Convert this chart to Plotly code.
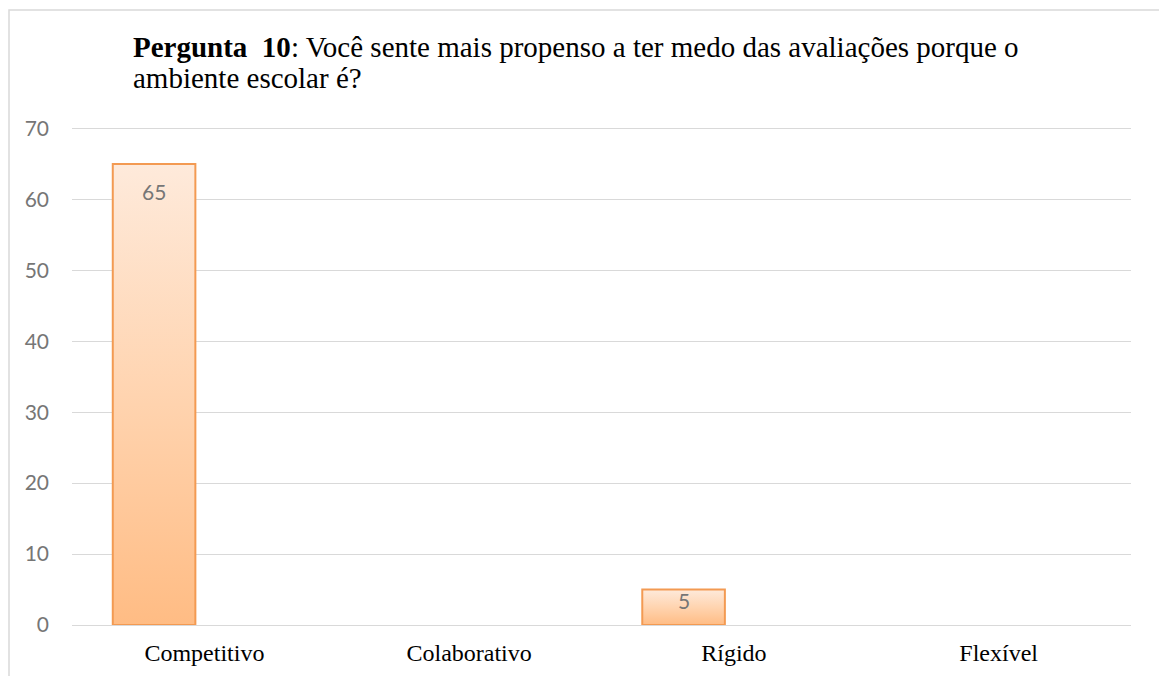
import plotly.graph_objects as go

# ---------------- data ----------------
categories = ["Competitivo", "Colaborativo", "Rígido", "Flexível"]
values = [65, 0, 5, 0]
y_ticks = [0, 10, 20, 30, 40, 50, 60, 70]
title_bold = "Pergunta\u00a0\u00a010"
title_rest_line1 = ": Você sente mais propenso a ter medo das avaliações porque o"
title_line2 = "ambiente escolar é?"

# ---------------- style ----------------
W, H = 1159, 676
ML, MR, MT, MB = 72, 28, 127, 51
PLOT_W = W - ML - MR
PLOT_H = H - MT - MB
Y_TOP = 70.2
PX_PER_UNIT = PLOT_H / Y_TOP

BAR_OFFSET = -0.346
BAR_WIDTH = 0.312
BORDER = "#F39A52"
GRAD = [[0.0, "#FFBC84"], [0.5, "#FFD4B0"], [1.0, "#FEEADB"]]
GRID = "#D9D9D9"
LABEL_GRAY = "#767676"
SERIF = "Liberation Serif, Times New Roman, serif"
SANS = "Lato, Open Sans, sans-serif"

idx = list(range(len(categories)))

fig = go.Figure()

# gradient fills (drawn through the main axes)
for i, v in zip(idx, values):
    if v <= 0:
        continue
    x0 = i + BAR_OFFSET
    x1 = x0 + BAR_WIDTH
    fig.add_trace(go.Scatter(
        x=[x0, x0, x1, x1, x0], y=[0, v, v, 0, 0],
        mode="none", fill="toself",
        fillgradient=dict(type="vertical", colorscale=GRAD),
        hoverinfo="skip", showlegend=False, xaxis="x", yaxis="y",
    ))

# bars (outline) on an overlaying pair of axes so they sit above the fills
fig.add_trace(go.Bar(
    x=idx, y=[v if v > 0 else None for v in values],
    offset=BAR_OFFSET, width=BAR_WIDTH,
    marker=dict(color="rgba(0,0,0,0)", line=dict(color=BORDER, width=2)),
    xaxis="x2", yaxis="y2", showlegend=False,
    hovertemplate="%{y}<extra></extra>",
))

annotations = []
for i, v in zip(idx, values):
    if v <= 0:
        continue
    annotations.append(dict(
        x=i + BAR_OFFSET + BAR_WIDTH / 2, y=v, xref="x", yref="y",
        text=str(v), showarrow=False, yanchor="middle",
        yshift=-min(28, v * PX_PER_UNIT - 25),
        font=dict(family=SANS, size=21, color=LABEL_GRAY),
    ))

# title (two lines)
annotations.append(dict(
    x=(131 - ML) / PLOT_W, y=(H - MB - 47) / PLOT_H, xref="paper", yref="paper",
    xanchor="left", yanchor="middle", showarrow=False,
    text="<b>" + title_bold + "</b>" + title_rest_line1,
    font=dict(family=SERIF, size=29, color="#000000"),
))
annotations.append(dict(
    x=(131 - ML) / PLOT_W, y=(H - MB - 78.5) / PLOT_H, xref="paper", yref="paper",
    xanchor="left", yanchor="middle", showarrow=False,
    text=title_line2,
    font=dict(family=SERIF, size=29, color="#000000"),
))

fig.update_layout(
    width=W, height=H,
    margin=dict(l=ML, r=MR, t=MT, b=MB, pad=0, autoexpand=False),
    paper_bgcolor="white", plot_bgcolor="white",
    showlegend=False,
    xaxis=dict(
        range=[-0.5, len(categories) - 0.5], tickmode="array",
        tickvals=idx, ticktext=categories,
        showgrid=False, zeroline=False, showline=False, ticks="",
        ticklabelstandoff=11, automargin=False,
        tickfont=dict(family=SERIF, size=24, color="#000000"),
        fixedrange=True,
    ),
    xaxis2=dict(overlaying="x", matches="x", visible=False),
    yaxis=dict(
        range=[0, Y_TOP], tickmode="array", tickvals=y_ticks,
        showgrid=True, gridcolor=GRID, gridwidth=1.3,
        zeroline=True, zerolinecolor=GRID, zerolinewidth=1.3,
        showline=False, ticks="", ticklabelstandoff=22, automargin=False,
        tickfont=dict(family=SANS, size=21, color=LABEL_GRAY),
        fixedrange=True,
    ),
    yaxis2=dict(overlaying="y", matches="y", visible=False),
    annotations=annotations,
    shapes=[dict(
        type="rect", xref="paper", yref="paper",
        x0=(9 - ML) / PLOT_W, x1=(W + 40 - ML) / PLOT_W,
        y0=(H - MB - (H + 40)) / PLOT_H, y1=(H - MB - 10) / PLOT_H,
        line=dict(color=GRID, width=1.5), fillcolor="rgba(0,0,0,0)",
        layer="below",
    )],
)

fig.write_html(
    "out.html",
    config={"displayModeBar": False},
    post_script="document.body.style.margin='0px';",
)
